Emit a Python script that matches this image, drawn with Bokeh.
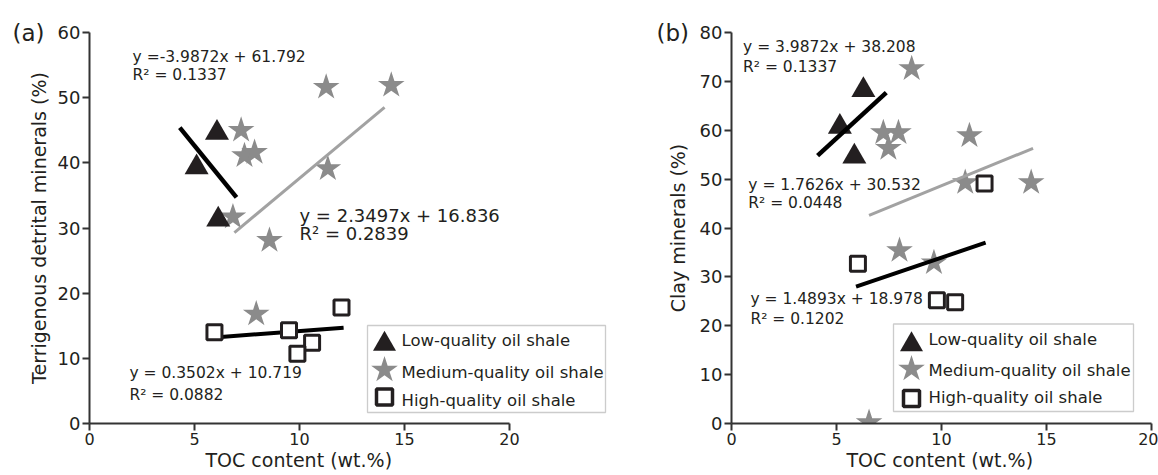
from bokeh.plotting import figure
from bokeh.layouts import row
from bokeh.models import Range1d, Label, BoxAnnotation, FixedTicker, Title
from bokeh.embed import file_html
from bokeh.resources import INLINE

FONT = "DejaVu Sans"
INK = "#231f20"
STAR_GRAY = "#8b8b8b"
LINE_GRAY = "#a2a2a2"
AXIS = "#333333"
TXT = "#231f20"

# ---------------- data ----------------
x_ticks = [0, 5, 10, 15, 20]
a_y_ticks = [0, 10, 20, 30, 40, 50, 60]
b_y_ticks = [0, 10, 20, 30, 40, 50, 60, 70, 80]
legend_labels = ["Low-quality oil shale", "Medium-quality oil shale", "High-quality oil shale"]
x_title = "TOC content (wt.%)"

# panel (a): terrigenous detrital minerals
a_low_x = [6.07, 5.10, 6.13]
a_low_y = [44.6, 39.3, 31.3]
a_med_x = [7.22, 7.38, 7.86, 11.27, 14.37, 11.35, 6.83, 8.57, 7.94]
a_med_y = [45.0, 41.1, 41.6, 51.6, 51.9, 39.1, 31.7, 28.1, 16.8]
a_high_x = [5.95, 9.50, 10.60, 9.90, 12.00]
a_high_y = [14.0, 14.3, 12.4, 10.7, 17.8]
a_low_fit_x = [4.30, 7.00]
a_low_fit_y = [45.4, 34.7]
a_med_fit_x = [6.90, 14.05]
a_med_fit_y = [29.3, 48.5]
a_high_fit_x = [5.95, 12.10]
a_high_fit_y = [13.2, 14.7]
a_eq = ["y =-3.9872x + 61.792", "y = 2.3497x + 16.836", "y = 0.3502x + 10.719"]
a_r2 = ["R\u00b2 = 0.1337", "R\u00b2 = 0.2839", "R\u00b2 = 0.0882"]
a_title = "Terrigenous detrital minerals (%)"

# panel (b): clay minerals
b_low_x = [6.28, 5.16, 5.85]
b_low_y = [68.2, 60.7, 54.6]
b_med_x = [8.58, 7.23, 7.95, 7.47, 11.33, 11.13, 14.27, 8.00, 9.64, 6.55]
b_med_y = [72.6, 59.5, 59.5, 56.3, 58.9, 49.3, 49.3, 35.4, 32.9, 0.2]
b_high_x = [12.05, 6.02, 9.78, 10.65]
b_high_y = [49.1, 32.7, 25.2, 24.8]
b_low_fit_x = [4.10, 7.37]
b_low_fit_y = [54.8, 67.7]
b_med_fit_x = [6.55, 14.36]
b_med_fit_y = [42.6, 56.3]
b_high_fit_x = [5.93, 12.10]
b_high_fit_y = [28.0, 37.0]
b_eq = ["y = 3.9872x + 38.208", "y = 1.7626x + 30.532", "y = 1.4893x + 18.978"]
b_r2 = ["R\u00b2 = 0.1337", "R\u00b2 = 0.0448", "R\u00b2 = 0.1202"]
b_title = "Clay minerals (%)"

FRAME_H = 391
TOP = 32
PX_PER_X = 21.0


def build(tag, fig_w, border_l, x_max, y_max, y_ticks, y_title, y_title_standoff,
          low, med, high, fits, eqs, r2s, eq_pos, legend_px, canvas_x0, xt_left):
    frame_w = int(round(x_max * PX_PER_X))
    border_r = fig_w - border_l - frame_w
    p = figure(width=fig_w, height=475,
               x_range=Range1d(0, x_max), y_range=Range1d(0, y_max),
               output_backend="svg", toolbar_location=None,
               min_border_left=border_l, min_border_right=border_r,
               min_border_top=TOP, min_border_bottom=475 - TOP - FRAME_H)
    p.outline_line_color = None
    p.xgrid.visible = False
    p.ygrid.visible = False

    for ax in (p.xaxis[0], p.yaxis[0]):
        ax.axis_line_color = AXIS
        ax.axis_line_width = 2
        ax.major_tick_line_color = AXIS
        ax.major_tick_line_width = 2
        ax.major_tick_out = 7
        ax.major_tick_in = 0
        ax.minor_tick_line_color = None
        ax.major_label_text_font = FONT
        ax.major_label_text_color = TXT
        ax.major_label_standoff = 2
        ax.axis_label_text_font = FONT
        ax.axis_label_text_font_style = "normal"
        ax.axis_label_text_color = TXT
        ax.axis_label_text_font_size = "19px"
    p.xaxis.ticker = FixedTicker(ticks=x_ticks)
    p.xaxis.bounds = (x_ticks[0], x_ticks[-1])
    p.yaxis.ticker = FixedTicker(ticks=y_ticks)
    p.xaxis.major_label_text_font_size = "16px"
    p.yaxis.major_label_text_font_size = "18px"
    p.yaxis.axis_label = y_title
    p.yaxis.axis_label_standoff = y_title_standoff

    # panel tag as the figure title, pulled to the left of the y axis
    p.title.text = tag
    p.title.align = "left"
    p.title.offset = -(border_l - 12)
    p.title.standoff = -27
    p.title.text_font = FONT
    p.title.text_font_size = "23px"
    p.title.text_font_style = "normal"
    p.title.text_color = TXT

    # x-axis title (placed below the axis, centred on the 0-20 span)
    p.add_layout(Title(text=x_title, align="left", offset=xt_left - canvas_x0 - border_l,
                       vertical_align="top", standoff=2, text_font=FONT,
                       text_font_size="19px", text_font_style="normal",
                       text_color=TXT), "below")

    # data marks
    p.scatter(med[0], med[1], marker="star", size=28, fill_color=STAR_GRAY, line_color=None)
    p.scatter(low[0], low[1], marker="triangle", size=24, fill_color=INK, line_color=None)
    (lf, mf, hf) = fits
    p.line(lf[0], lf[1], line_color="black", line_width=4.5)
    p.line(mf[0], mf[1], line_color=LINE_GRAY, line_width=3)
    p.line(hf[0], hf[1], line_color="black", line_width=4)
    p.scatter(high[0], high[1], marker="square", size=15, fill_color="white",
              line_color=INK, line_width=3)

    # regression equations
    for (eq, r2, pos) in zip(eqs, r2s, eq_pos):
        ex, ey1, ey2, fs = pos
        for t, yy in ((eq, ey1), (r2, ey2)):
            p.add_layout(Label(x=ex, y=yy, text=t, text_font=FONT, text_font_size=fs,
                               text_color=TXT, text_baseline="middle", text_align="left"))

    # legend (window pixel geometry)
    def dx(px):
        return (px - canvas_x0 - border_l) * x_max / frame_w

    def dy(py):
        return y_max - (py - TOP) * y_max / FRAME_H

    box, mk_x, mk_y, tx_x, tx_y = legend_px
    p.add_layout(BoxAnnotation(left=box[0] - canvas_x0, right=box[1] - canvas_x0,
                               top=box[2], bottom=box[3],
                               left_units="canvas", right_units="canvas",
                               top_units="canvas", bottom_units="canvas",
                               fill_alpha=0, line_color="#555555", line_width=1.3))
    p.scatter([dx(mk_x)], [dy(mk_y[0])], marker="triangle", size=23, fill_color=INK,
              line_color=None)
    p.scatter([dx(mk_x)], [dy(mk_y[1])], marker="star", size=28, fill_color=STAR_GRAY,
              line_color=None)
    p.scatter([dx(mk_x)], [dy(mk_y[2])], marker="square", size=16, fill_color="white",
              line_color=INK, line_width=3.5)
    for lab, yy in zip(legend_labels, tx_y):
        p.add_layout(Label(x=tx_x - canvas_x0, y=yy, x_units="canvas", y_units="canvas",
                           text=lab, text_font=FONT,
                           text_font_size="16.5px", text_color=TXT,
                           text_baseline="middle", text_align="left"))
    return p


# legend geometry in window pixels: box(l, r, t, b), marker x, marker ys, text x, text ys
a_legend = ((367, 605, 325, 412), 384, (343.5, 369.5, 396.5), 401, (340, 372, 400))
b_legend = ((893, 1133, 323.5, 411), 911, (344, 368.5, 398), 928, (339, 370, 397))

a_eq_pos = [(2.05, 56.3, 53.5, "15.5px"), (10.0, 31.9, 29.2, "18px"), (1.9, 7.8, 4.4, "15.5px")]
b_eq_pos = [(0.55, 77.1, 73.0, "15.5px"), (0.8, 48.9, 45.1, "15.5px"), (0.9, 25.5, 21.4, "15.5px")]

# panel (a): frame extended to the right (x up to 25) so the legend box fits; axis spans 0-20
pa = build("(a)", 644, 89, 25, 60, a_y_ticks, a_title, 5,
           (a_low_x, a_low_y), (a_med_x, a_med_y), (a_high_x, a_high_y),
           ((a_low_fit_x, a_low_fit_y), (a_med_fit_x, a_med_fit_y), (a_high_fit_x, a_high_fit_y)),
           a_eq, a_r2, a_eq_pos, a_legend, 0, 205)
pb = build("(b)", 514, 87, 20, 80, b_y_ticks, b_title, 8,
           (b_low_x, b_low_y), (b_med_x, b_med_y), (b_high_x, b_high_y),
           ((b_low_fit_x, b_low_fit_y), (b_med_fit_x, b_med_fit_y), (b_high_fit_x, b_high_fit_y)),
           b_eq, b_r2, b_eq_pos, b_legend, 644, 846)

layout = row(pa, pb)
open("out.html", "w").write(file_html(layout, INLINE))
